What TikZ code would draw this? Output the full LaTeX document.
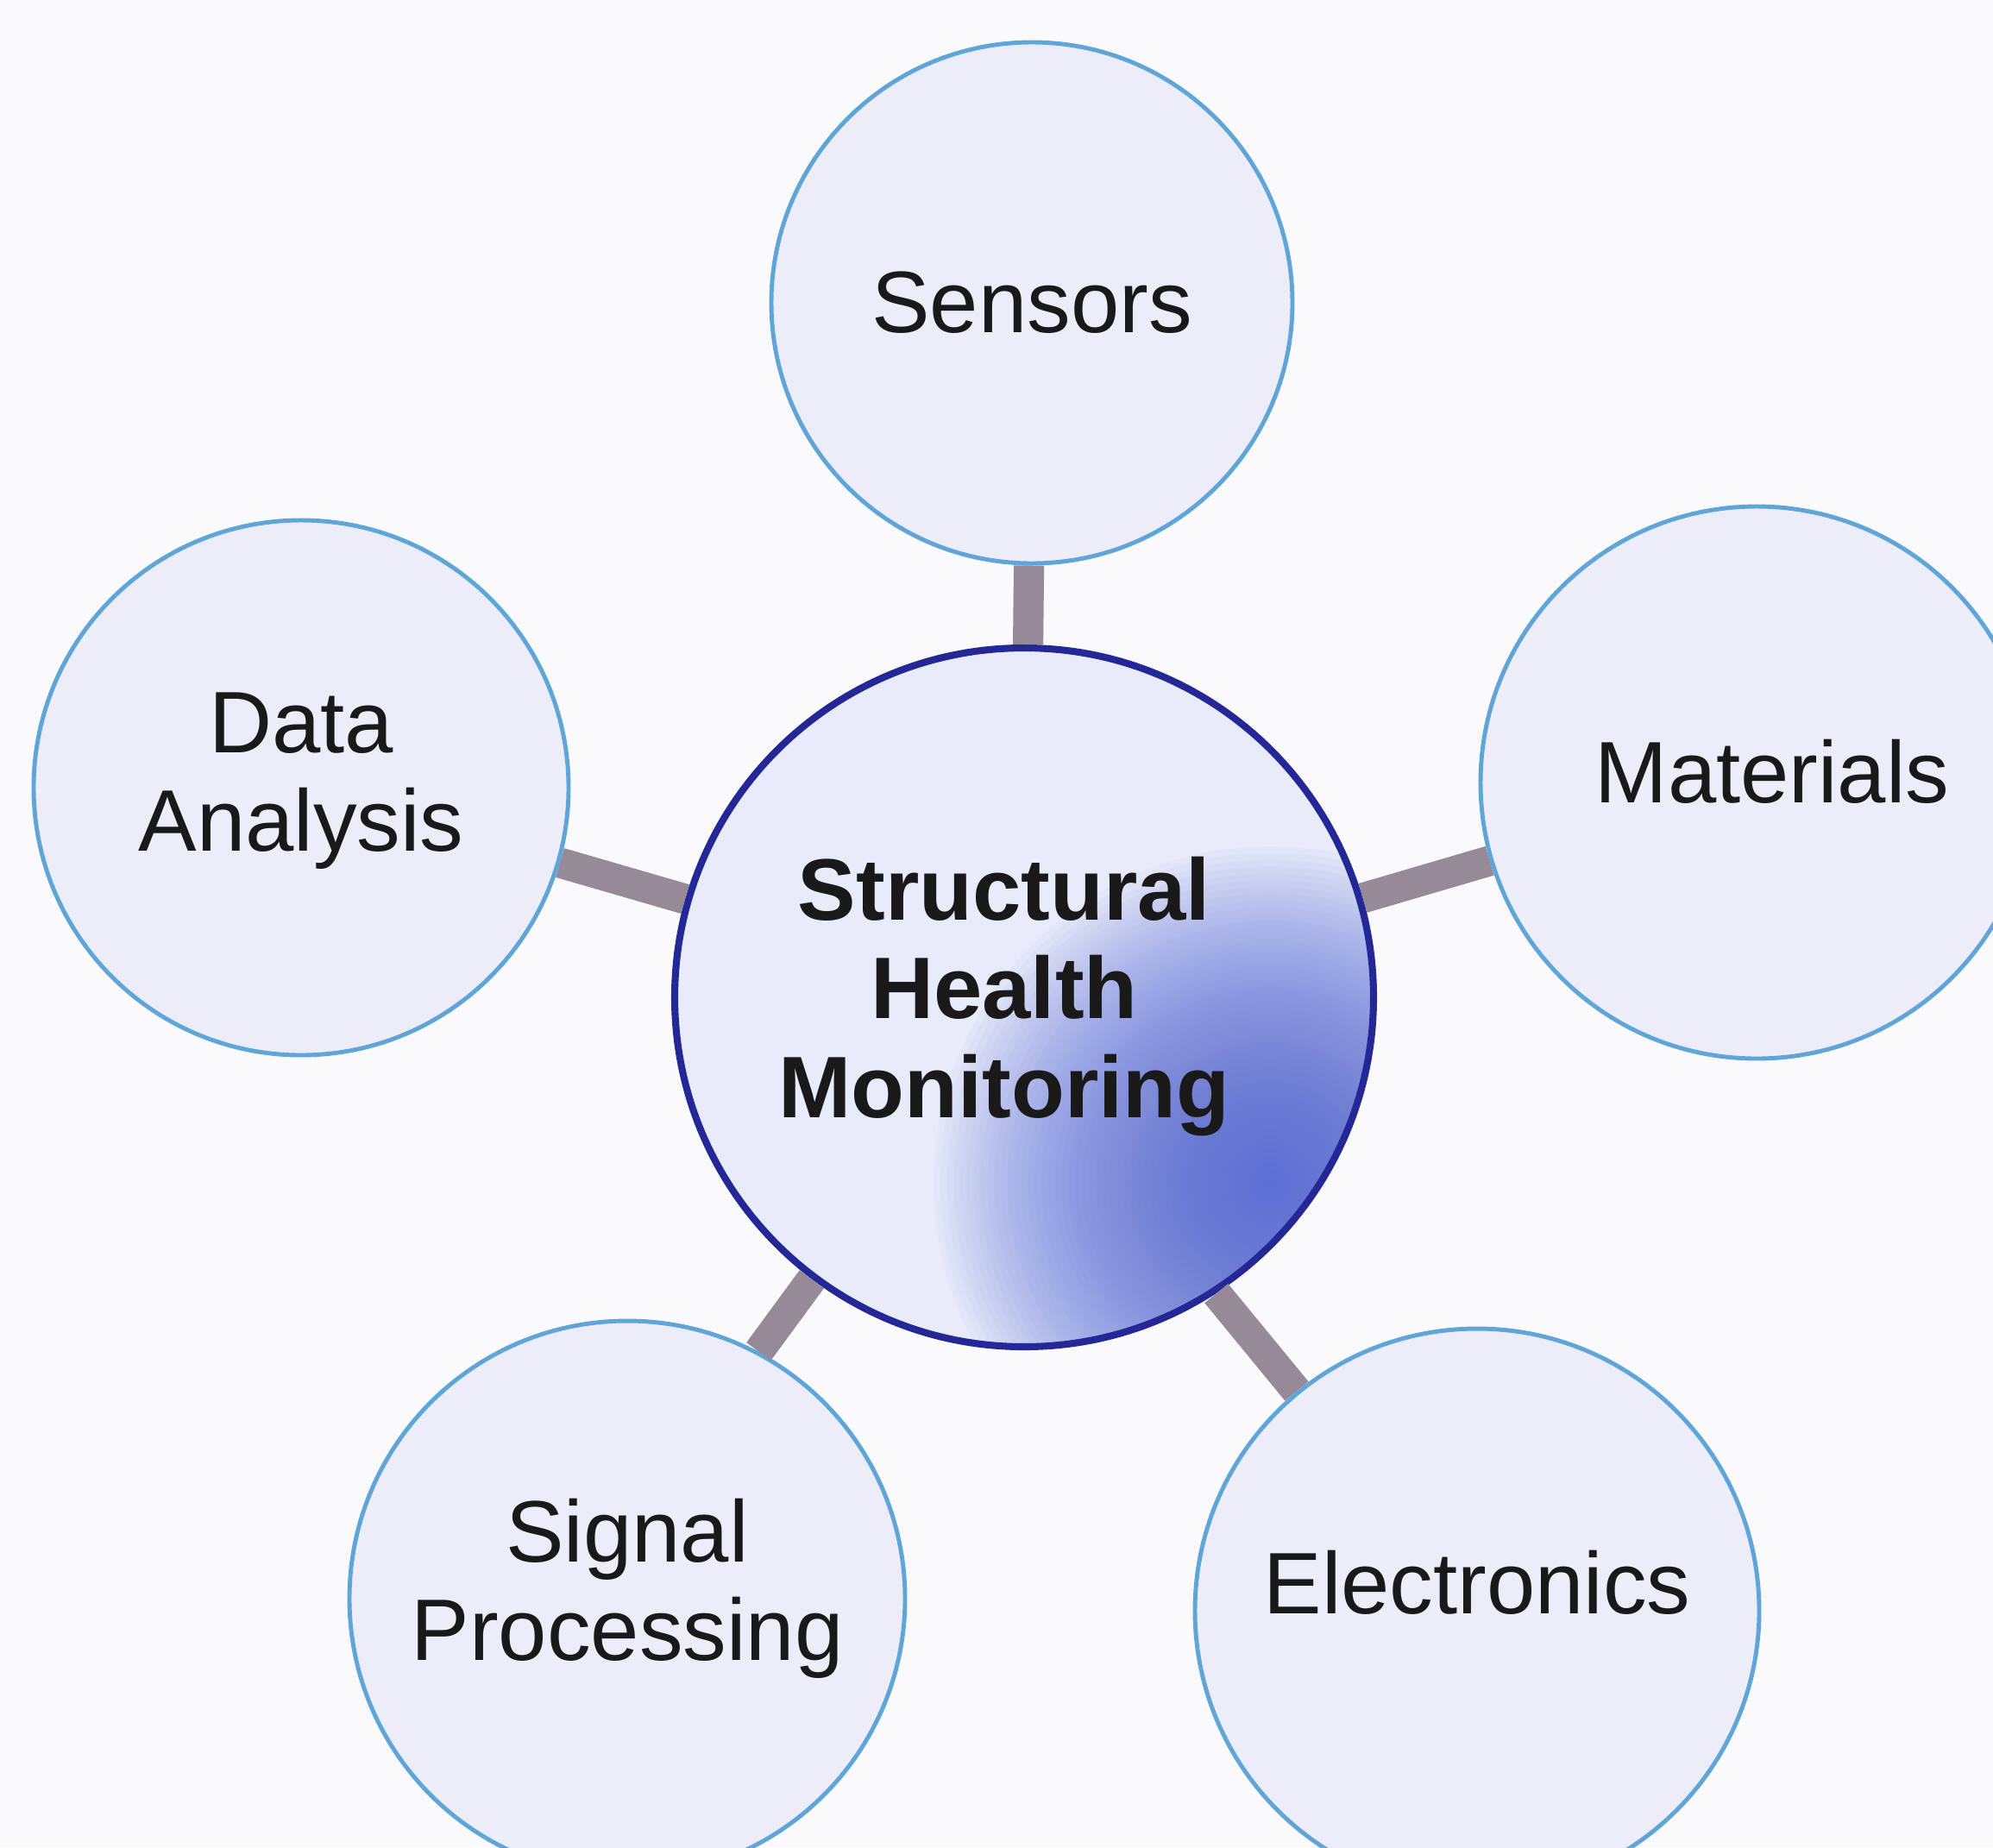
\documentclass[tikz,border=0pt]{standalone}
\usepackage{fontspec}
\setmainfont{Liberation Sans}

\definecolor{pagebg}{RGB}{250,250,253}
\definecolor{subfill}{RGB}{236,237,249}
\definecolor{subline}{RGB}{95,165,215}
\definecolor{hubfill}{RGB}{232,235,250}
\definecolor{hubline}{RGB}{35,40,150}
\definecolor{hubblue}{RGB}{78,98,212}
\definecolor{linkgray}{RGB}{150,138,152}

\tikzset{
    sub/.style={circle, draw=subline, line width=1.4pt, fill=subfill, inner sep=0pt},
    hub/.style={circle, draw=hubline, line width=2.3pt, fill=hubfill, inner sep=0pt},
    txt/.style={font=\fontsize{28.8}{32.5}\selectfont, align=center, text=black!90},
    link/.style={draw=linkgray, line width=10pt}
}

\begin{document}
\begin{tikzpicture}
    \fill[pagebg] (0,0) rectangle (23.1,-21.41);
    \useasboundingbox (0,0) rectangle (23.1,-21.41);

    \node[hub, minimum size=8.1cm,
        path picture={
            \foreach \k in {1,...,50} {
                \fill[hubblue, opacity=0.036]
                    ([shift={(2.85,-2.15)}]path picture bounding box.center) circle ({3.9*\k/50});
            }},
        label={[txt, font=\fontsize{28.8}{32.5}\selectfont\bfseries, shift={(-0.23,0.01)}]center:Structural\\Health\\Monitoring}]
        (shm) at (11.87,-11.56) {};

    \node[sub, minimum size=6.04cm, label={[txt]center:Sensors}] (sen) at (11.96,-3.51) {};
    \node[sub, minimum size=6.4cm, label={[txt, shift={(0.18,0.13)}]center:Materials}] (mat) at (20.36,-9.07) {};
    \node[sub, minimum size=6.2cm, label={[txt, shift={(0,0.08)}]center:Data\\Analysis}] (dat) at (3.49,-9.13) {};
    \node[sub, minimum size=6.44cm, label={[txt, shift={(0,0.12)}]center:Signal\\Processing}] (sig) at (7.27,-18.53) {};
    \node[sub, minimum size=6.54cm, label={[txt, shift={(0,0.33)}]center:Electronics}] (ele) at (17.12,-18.67) {};

    \foreach \n in {sen,mat,dat} {
        \draw[link] (shm) -- (\n);
    }
    \draw[link] (shm.-127) -- (sig.62);
    \draw[link] (shm.-57) -- (ele);
\end{tikzpicture}
\end{document}
